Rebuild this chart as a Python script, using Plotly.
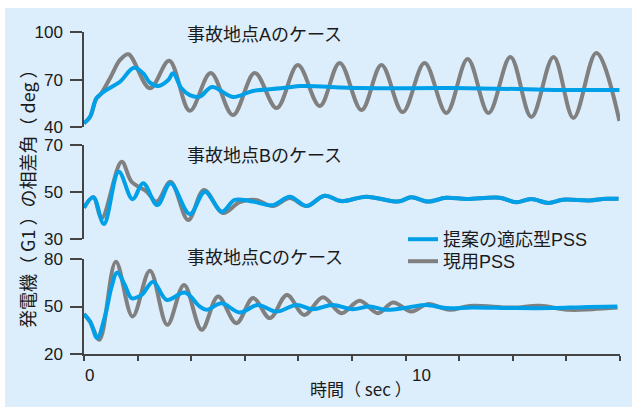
import plotly.graph_objects as go

# ---- data: generator phase angle (deg) vs time (sec) ----
# Case A
T_A_CUR = [0.00, 0.19, 0.39, 0.50, 0.81, 1.12, 1.38, 2.05, 2.65, 3.29, 3.94, 4.63, 5.31, 5.99,
           6.65, 7.33, 7.95, 8.63, 9.25, 9.91, 10.59, 11.27, 11.93, 12.58, 13.26, 13.91,
           14.60, 15.22, 15.93, 16.65]
A_CUR = [42.5, 46.7, 58.3, 60.3, 70.9, 82.4, 86.0, 64.6, 81.9, 50.4, 74.2, 47.7, 74.2, 52.1,
         79.2, 53.4, 80.5, 50.9, 79.2, 49.6, 80.5, 49.0, 83.0, 49.0, 84.3, 46.5,
         84.3, 45.9, 86.8, 44.0]
T_A_NEW = [0.00, 0.19, 0.39, 0.70, 1.12, 1.55, 1.84, 2.05, 2.31, 2.62, 2.77, 3.03, 3.29, 3.60,
           3.98, 4.63, 5.25, 6.18, 6.71, 8.57, 11.37, 13.54, 14.78, 16.65]
A_NEW = [42.5, 46.7, 58.3, 63.5, 68.7, 77.5, 74.0, 68.1, 66.0, 69.8, 74.0, 64.6, 60.3, 59.3,
         65.4, 59.1, 62.9, 64.7, 66.0, 64.7, 64.7, 64.1, 63.5, 63.5]

# Case B
T_B_CUR = [0.00, 0.29, 0.55, 1.17, 1.48, 1.95, 2.26, 2.69, 3.24, 3.73, 4.32, 4.84, 5.34, 5.87,
           6.40, 6.92, 7.48, 8.00, 8.78, 9.76, 10.18, 10.69, 11.26, 11.89, 12.92, 13.44,
           13.90, 14.45, 14.89, 15.71, 16.23, 16.62]
B_CUR = [43.4, 47.8, 39.0, 62.9, 54.4, 50.2, 46.0, 54.4, 38.2, 50.9, 41.2, 45.8, 46.7, 44.1,
         47.5, 44.1, 48.5, 46.2, 48.1, 46.0, 47.8, 46.0, 47.6, 47.1, 47.6, 45.7,
         47.1, 45.4, 46.8, 46.5, 47.2, 47.2]
T_B_NEW = [0.00, 0.29, 0.62, 1.08, 1.51, 1.84, 2.28, 2.69, 3.29, 3.76, 4.28, 4.69, 5.25, 5.87,
           6.40, 6.92, 7.48, 8.00, 8.78, 9.76, 10.18, 10.69, 11.26, 11.89, 12.92, 13.44,
           13.90, 14.45, 14.89, 15.71, 16.23, 16.62]
B_NEW = [43.4, 47.8, 36.5, 58.7, 47.0, 53.8, 44.5, 53.8, 40.7, 50.2, 41.7, 46.7, 46.0, 44.5,
         48.1, 44.1, 48.5, 46.2, 48.1, 46.0, 47.8, 46.0, 47.6, 47.1, 47.6, 45.7,
         47.1, 45.4, 46.8, 46.5, 47.2, 47.2]

# Case C
T_C_CUR = [0.00, 0.19, 0.48, 0.99, 1.51, 2.05, 2.59, 3.11, 3.66, 4.17, 4.74, 5.26, 5.78, 6.31,
           6.85, 7.43, 8.00, 8.57, 9.14, 9.61, 10.18, 10.69, 11.37, 11.99, 13.32, 14.16,
           15.09, 15.81, 16.59]
C_CUR = [45.2, 40.3, 29.0, 78.3, 43.7, 72.6, 38.4, 63.6, 35.3, 56.3, 39.5, 55.3, 42.7, 57.3,
         44.7, 55.9, 45.8, 53.6, 45.8, 52.5, 46.8, 51.5, 47.9, 50.4, 49.3, 50.4,
         47.9, 48.3, 49.3]
T_C_NEW = [0.00, 0.19, 0.41, 0.65, 0.86, 1.03, 1.27, 1.48, 1.79, 2.15, 2.57, 3.14, 3.60, 3.81,
           4.28, 4.84, 5.41, 5.98, 6.61, 7.11, 7.73, 8.35, 8.88, 9.40, 10.12, 10.64, 11.26,
           12.08, 13.32, 14.57, 15.50, 16.58]
C_NEW = [45.2, 40.5, 30.1, 43.7, 62.6, 71.4, 63.6, 55.3, 57.3, 65.7, 54.2, 58.8, 50.0, 47.9,
         52.1, 46.2, 51.0, 46.8, 51.0, 48.3, 51.0, 48.3, 50.0, 47.9, 49.6, 51.0, 49.0,
         49.3, 49.0, 49.0, 49.6, 50.0]

SERIES_NAMES = ["提案の適応型PSS", "現用PSS"]
CASE_LABELS = ["事故地点Aのケース", "事故地点Bのケース", "事故地点Cのケース"]
Y_TICKS = [[40, 70, 100], [30, 50, 70], [20, 50, 80]]
X_MAX = 16.667
X_TICKS = [i * 10 / 6 for i in range(11)]
X_TICK_LABELS = {0: "0", 10: "10"}
X_TITLE = "時間（ sec ）"
Y_TITLE = "発電機（ G1 ）の相差角（ deg ）"

BLUE = "#00a0e9"
GRAY = "#808080"
PANEL = "#dcedfb"
AXIS = "#444444"
TEXT = "#1a1a1a"
FONT = "Liberation Sans, Noto Sans CJK JP, sans-serif"
FONT_JP = "Noto Sans CJK JP, Liberation Sans, sans-serif"

fig = go.Figure()

cases = [(T_A_CUR, A_CUR, T_A_NEW, A_NEW, "y"),
         (T_B_CUR, B_CUR, T_B_NEW, B_NEW, "y2"),
         (T_C_CUR, C_CUR, T_C_NEW, C_NEW, "y3")]
for i, (tc, vc, tn, vn, yax) in enumerate(cases):
    fig.add_trace(go.Scatter(x=tc, y=vc, mode="lines", yaxis=yax, xaxis="x",
                             line=dict(color=GRAY, width=4, shape="spline", smoothing=1),
                             name=SERIES_NAMES[1], legend="legend2", showlegend=(i == 0)))
    fig.add_trace(go.Scatter(x=tn, y=vn, mode="lines", yaxis=yax, xaxis="x",
                             line=dict(color=BLUE, width=4, shape="spline", smoothing=1),
                             name=SERIES_NAMES[0], legend="legend", showlegend=(i == 0)))

W, H = 632, 407
ML, MR, MT, MB = 84, 12, 32, 53
PW, PH = W - ML - MR, H - MT - MB


def fy(py):
    return (H - MB - py) / PH


def fx(px):
    return (px - ML) / PW


yaxis_common = dict(showline=True, linecolor=AXIS, linewidth=1.5, ticks="outside",
                    ticklen=12, tickwidth=1.5, tickcolor=AXIS, showgrid=False,
                    zeroline=False, anchor="x", ticklabelstandoff=4,
                    tickfont=dict(size=17, color=TEXT, family=FONT))
domains = [(fy(127.3), fy(32)), (fy(239.3), fy(145)), (fy(354), fy(259))]
ranges = [(40, 100), (30, 70), (20, 80)]
axes = {}
for k, name in enumerate(["yaxis", "yaxis2", "yaxis3"]):
    axes[name] = dict(yaxis_common, domain=list(domains[k]), range=list(ranges[k]),
                      tickvals=Y_TICKS[k])

annotations = []
for k, lab in enumerate(CASE_LABELS):
    annotations.append(dict(text=lab, xref="paper", yref="paper", x=fx(185),
                            y=fy([35, 156, 258][k]), xanchor="left", yanchor="middle",
                            showarrow=False, font=dict(size=18, color=TEXT, family=FONT)))
for val, lab in X_TICK_LABELS.items():
    annotations.append(dict(text=lab, xref="x", yref="paper", x=val, y=fy(375),
                            xanchor="left", yanchor="middle", showarrow=False,
                            xshift=(-1 if val == 0 else 4),
                            font=dict(size=17, color=TEXT, family=FONT)))
annotations.append(dict(text=X_TITLE, xref="paper", yref="paper", x=fx(361), y=fy(388),
                        xanchor="center", yanchor="middle", showarrow=False,
                        font=dict(size=17, color=TEXT, family=FONT_JP)))
annotations.append(dict(text=Y_TITLE, xref="paper", yref="paper", x=fx(27), y=fy(194),
                        xanchor="center", yanchor="middle", showarrow=False, textangle=-90,
                        font=dict(size=18, color=TEXT, family=FONT_JP)))

legend_common = dict(xanchor="left", yanchor="top", bgcolor="rgba(0,0,0,0)",
                     borderwidth=0, itemwidth=30,
                     font=dict(size=18, color=TEXT, family=FONT))

fig.update_layout(
    width=W, height=H,
    margin=dict(l=ML, r=MR, t=MT, b=MB),
    paper_bgcolor="white",
    plot_bgcolor="rgba(0,0,0,0)",
    font=dict(family=FONT, color=TEXT),
    xaxis=dict(range=[0, X_MAX], domain=[0, 1], anchor="y3", showline=True, linecolor=AXIS,
               linewidth=1.5, ticks="outside", ticklen=5, tickwidth=1.5, tickcolor=AXIS,
               tickvals=X_TICKS, showticklabels=False, showgrid=False, zeroline=False),
    **axes,
    showlegend=True,
    legend=dict(legend_common, x=fx(403), y=fy(221)),
    legend2=dict(legend_common, x=fx(403), y=fy(243)),
    annotations=annotations,
    shapes=[dict(type="rect", xref="paper", yref="paper", x0=fx(5), x1=fx(632),
                 y0=fy(407), y1=fy(8), fillcolor=PANEL, line=dict(width=0), layer="below")],
)

fig.write_html("out.html")
